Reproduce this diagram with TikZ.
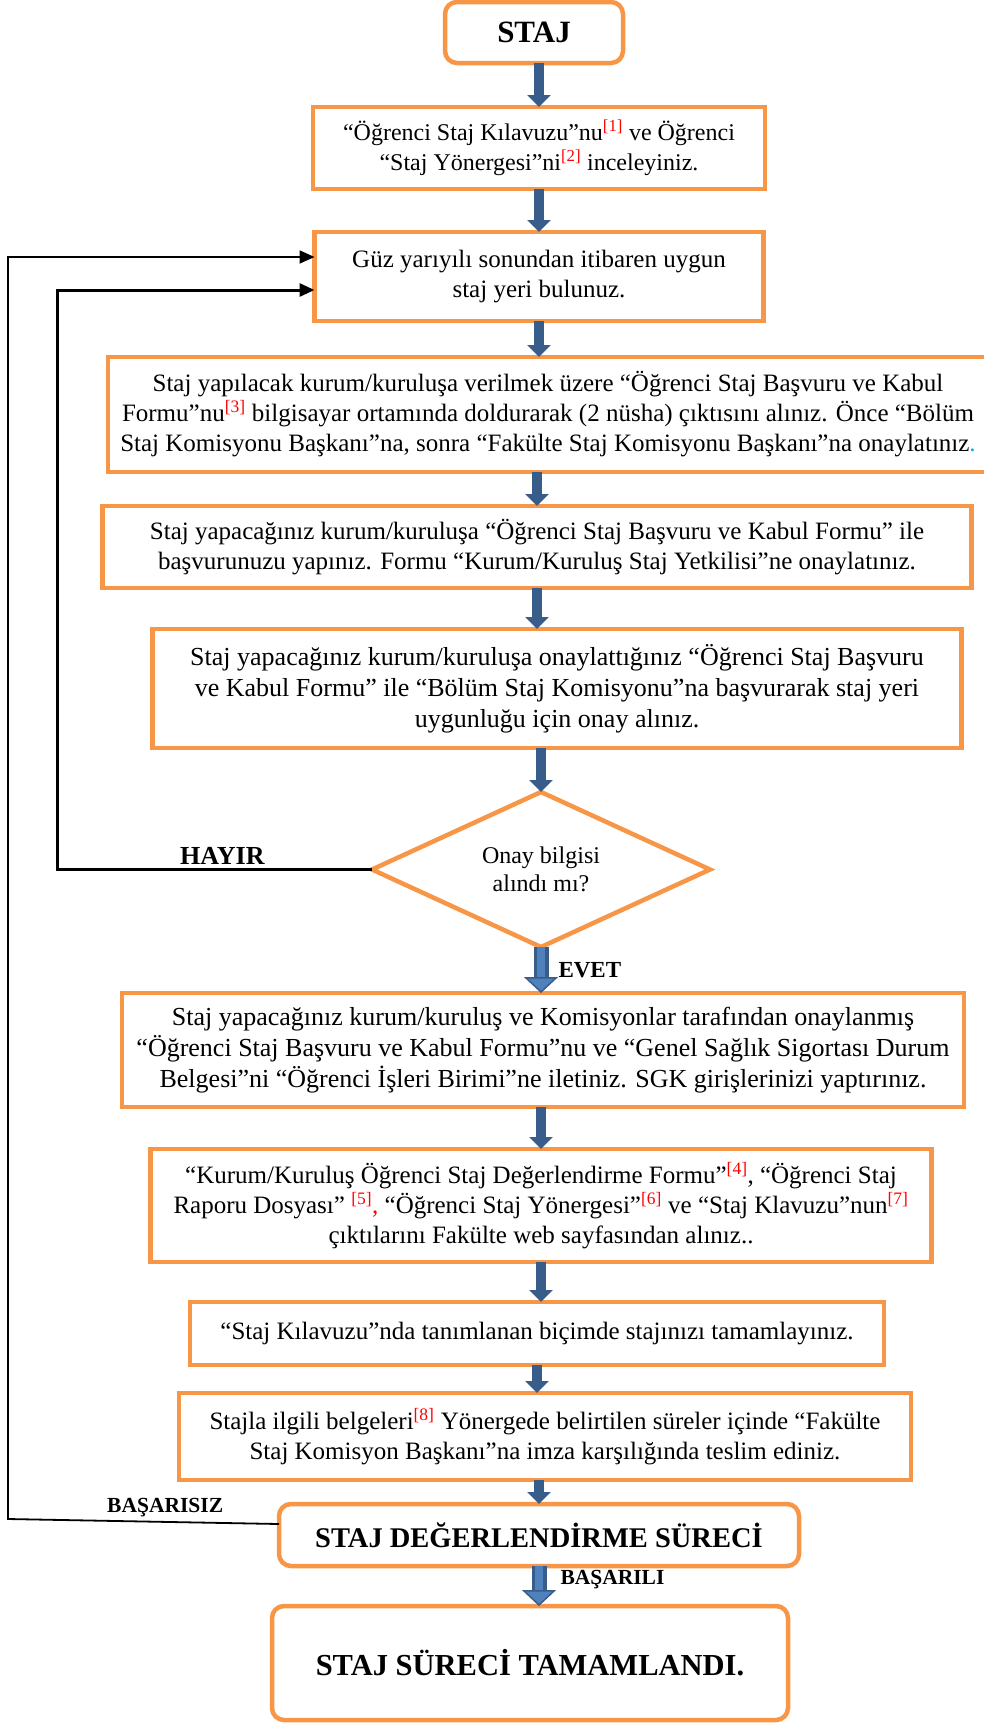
\documentclass[tikz,border=0pt]{standalone}
\usepackage{fontspec}
\setmainfont{Liberation Serif}
\usetikzlibrary{positioning,arrows.meta,shapes.geometric}

\definecolor{kututuruncu}{RGB}{247,150,70}
\definecolor{okmavi}{RGB}{56,93,138}
\definecolor{okacik}{RGB}{79,129,189}
\definecolor{kaynakkirmizi}{RGB}{255,0,0}
\definecolor{noktamavi}{RGB}{0,176,240}

\newcommand{\kaynak}[1]{\textcolor{kaynakkirmizi}{\textsuperscript{[#1]}}}

\tikzset{
  adim/.style={rectangle, draw=kututuruncu, line width=4.5pt, align=center,
    inner sep=0pt, outer sep=0pt, font=\fontsize{25}{30}\selectfont},
  baslik/.style={rectangle, rounded corners=12pt, draw=kututuruncu, line width=4.5pt,
    align=center, inner sep=0pt, outer sep=0pt, font=\fontsize{28.5}{34}\selectfont\bfseries},
  soru/.style={diamond, draw=kututuruncu, line width=4.5pt, align=center, aspect=2.2,
    inner sep=0pt, outer sep=0pt, font=\fontsize{24}{28}\selectfont},
  akis/.style={draw=okmavi, line width=10pt, -{Triangle[width=23pt,length=12pt]}},
  buyukakis/.style={draw=okmavi, line width=15pt,
    -{Triangle[width=34pt,length=16pt,fill=okacik,line width=1.5pt]},
    postaction={draw=okacik, line width=8pt, -, shorten >=16pt}},
  geri/.style={draw=black, line width=2.5pt, -{Triangle[width=13pt,length=15pt]}},
  etiket/.style={font=\fontsize{21.5}{24}\selectfont\bfseries, inner sep=4pt}
}

\begin{document}
\begin{tikzpicture}[x=1pt,y=1pt]
\useasboundingbox (0,0) rectangle (984,-1724);

%% Nodes definition
\node[baslik, minimum width=178pt, minimum height=61pt, font=\fontsize{31}{34}\selectfont\bfseries] (staj) at (534,-32.5) {STAJ};
\node[adim, below = 44pt of staj, xshift=5pt, minimum width=452pt, minimum height=82pt, font=\fontsize{24}{30}\selectfont] (incele)
  {“Öğrenci Staj Kılavuzu”nu\kaynak{1} ve Öğrenci\\“Staj Yönergesi”ni\kaynak{2} inceleyiniz.};
\node[adim, below = 43pt of incele, minimum width=449pt, minimum height=89pt] (guz)
  {Güz yarıyılı sonundan itibaren uygun\\staj yeri bulunuz.};
\node[adim, below = 36pt of guz, xshift=9pt, minimum width=880pt, minimum height=115pt] (kurum)
  {Staj yapılacak kurum/kuruluşa verilmek üzere “Öğrenci Staj Başvuru ve Kabul\\
   Formu”nu\kaynak{3} bilgisayar ortamında doldurarak (2 nüsha) çıktısını alınız. Önce “Bölüm\\
   Staj Komisyonu Başkanı”na, sonra “Fakülte Staj Komisyonu Başkanı”na onaylatınız\textcolor{noktamavi}{.}};
\node[adim, below = 34pt of kurum, xshift=-11pt, minimum width=869pt, minimum height=82pt] (basvuru)
  {Staj yapacağınız kurum/kuruluşa “Öğrenci Staj Başvuru ve Kabul Formu” ile\\
   başvurunuzu yapınız. Formu “Kurum/Kuruluş Staj Yetkilisi”ne onaylatınız.};
\node[adim, below = 41pt of basvuru, xshift=20pt, minimum width=809pt, minimum height=119pt, font=\fontsize{26}{31}\selectfont] (onayal)
  {Staj yapacağınız kurum/kuruluşa onaylattığınız “Öğrenci Staj Başvuru\\
   ve Kabul Formu” ile “Bölüm Staj Komisyonu”na başvurarak staj yeri\\
   uygunluğu için onay alınız.};
\node[soru, below = 44pt of onayal, xshift=-16pt, minimum width=338pt, minimum height=155pt] (karar)
  {Onay bilgisi\\alındı mı?};
\node[adim, below = 46pt of karar, xshift=2pt, minimum width=842pt, minimum height=114pt, font=\fontsize{26}{31}\selectfont] (sgk)
  {Staj yapacağınız kurum/kuruluş ve Komisyonlar tarafından onaylanmış\\
   “Öğrenci Staj Başvuru ve Kabul Formu”nu ve “Genel Sağlık Sigortası Durum\\
   Belgesi”ni “Öğrenci İşleri Birimi”ne iletiniz. SGK girişlerinizi yaptırınız.};
\node[adim, below = 42pt of sgk, xshift=-2pt, minimum width=781pt, minimum height=113pt] (belge)
  {“Kurum/Kuruluş Öğrenci Staj Değerlendirme Formu”\kaynak{4}, “Öğrenci Staj\\
   Raporu Dosyası” \kaynak{5}\textcolor{kaynakkirmizi}{,} “Öğrenci Staj Yönergesi”\kaynak{6} ve “Staj Klavuzu”nun\kaynak{7}\\
   çıktılarını Fakülte web sayfasından alınız..};
\node[adim, below = 40pt of belge, xshift=-4pt, minimum width=694pt, minimum height=63pt] (tamamla)
  {“Staj Kılavuzu”nda tanımlanan biçimde stajınızı tamamlayınız.};
\node[adim, below = 28pt of tamamla, xshift=8pt, minimum width=732pt, minimum height=87pt] (teslim)
  {Stajla ilgili belgeleri\kaynak{8} Yönergede belirtilen süreler içinde “Fakülte\\
   Staj Komisyon Başkanı”na imza karşılığında teslim ediniz.};
\node[baslik, below = 24pt of teslim, xshift=-6pt, minimum width=520pt, minimum height=62pt] (degerlendirme)
  {STAJ DEĞERLENDİRME SÜRECİ};
\node[baslik, below = 40pt of degerlendirme, xshift=-9pt, minimum width=516pt, minimum height=114pt, font=\fontsize{30.5}{34}\selectfont\bfseries] (son)
  {STAJ SÜRECİ TAMAMLANDI.};

\coordinate (icsol) at (57,0);
\coordinate (dissol) at (8,0);

%% Edges definition
\draw[akis] (staj.south -| incele.north) -- (incele.north);
\draw[akis] (incele.south) -- (incele.south |- guz.north);
\draw[akis] (guz.south) -- (guz.south |- kurum.north);
\draw[akis] (kurum.south -| basvuru.north) -- (basvuru.north);
\draw[akis] (basvuru.south) -- (basvuru.south |- onayal.north);
\draw[akis] (onayal.south -| karar.north) -- (karar.north);
\draw[buyukakis] (karar.south) -- node[etiket, right=6pt, font=\fontsize{23}{26}\selectfont\bfseries] (evet) {EVET} (karar.south |- sgk.north);
\draw[akis] (sgk.south -| karar.south) -- (karar.south |- belge.north);
\draw[akis] (belge.south) -- (belge.south |- tamamla.north);
\draw[akis] (tamamla.south) -- (tamamla.south |- teslim.north);
\draw[akis] (teslim.south -| degerlendirme.north) -- (degerlendirme.north);
\draw[buyukakis] (degerlendirme.south) -- node[etiket, pos=0.35, right=10pt] (basarili) {BAŞARILI} (degerlendirme.south |- son.north);
\draw[geri, line width=3pt] (karar.west) -- node[etiket, pos=0.475, above, font=\fontsize{26}{30}\selectfont\bfseries] (hayir) {HAYIR}
  (karar.west -| icsol) |- ([yshift=-13.5pt]guz.west);
\draw[geri, line width=1.8pt] ([yshift=11pt]degerlendirme.west) -- node[etiket, pos=0.42, above] (basarisiz) {BAŞARISIZ}
  ([yshift=16pt]degerlendirme.west -| dissol) |- ([yshift=19.5pt]guz.west);
\end{tikzpicture}
\end{document}
